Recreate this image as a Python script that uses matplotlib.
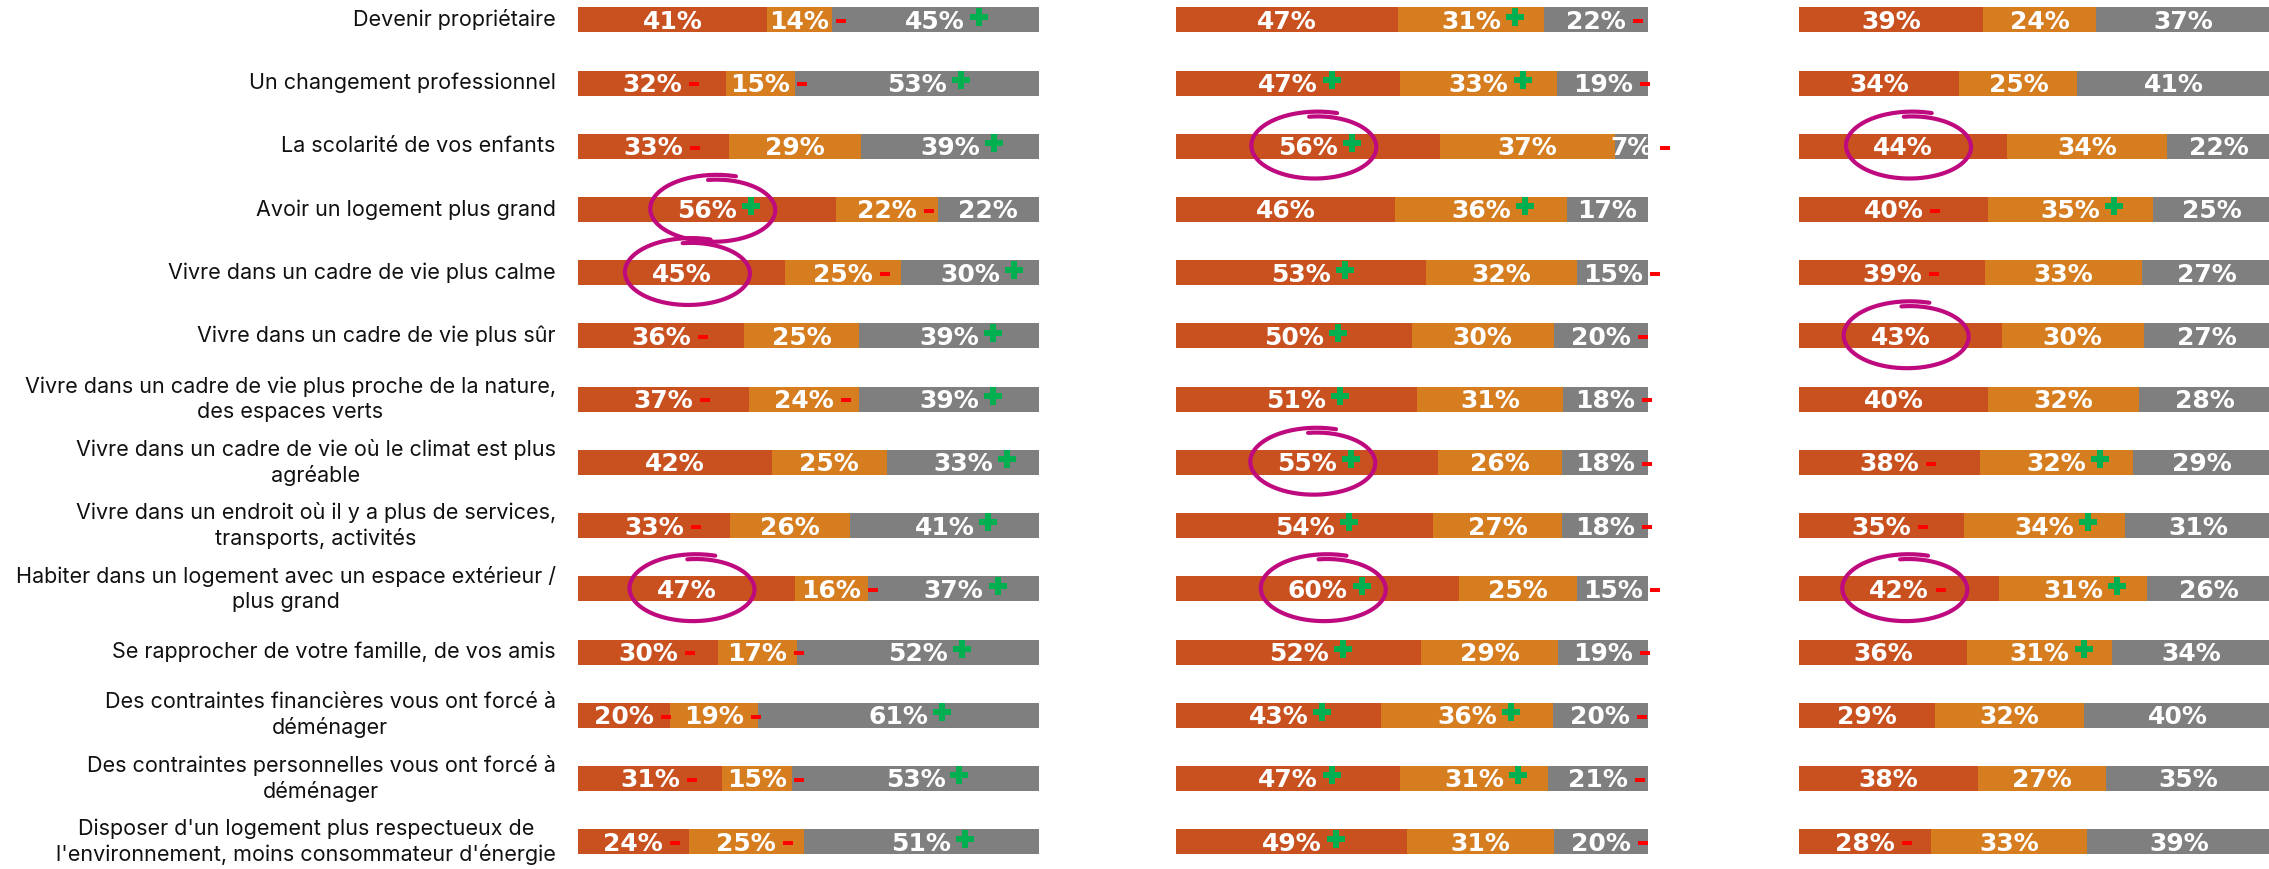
import numpy as np
import matplotlib.pyplot as plt
import matplotlib.transforms as mtransforms
from matplotlib.path import Path

# Motifs de déménagement
categories = [
    "Devenir propriétaire",
    "Un changement professionnel",
    "La scolarité de vos enfants",
    "Avoir un logement plus grand",
    "Vivre dans un cadre de vie plus calme",
    "Vivre dans un cadre de vie plus sûr",
    "Vivre dans un cadre de vie plus proche de la nature,\ndes espaces verts",
    "Vivre dans un cadre de vie où le climat est plus\nagréable",
    "Vivre dans un endroit où il y a plus de services,\ntransports, activités",
    "Habiter dans un logement avec un espace extérieur /\nplus grand",
    "Se rapprocher de votre famille, de vos amis",
    "Des contraintes financières vous ont forcé à\ndéménager",
    "Des contraintes personnelles vous ont forcé à\ndéménager",
    "Disposer d'un logement plus respectueux de\nl'environnement, moins consommateur d'énergie",
]

# bloc 1
p1_a = [41, 32, 33, 56, 45, 36, 37, 42, 33, 47, 30, 20, 31, 24]
p1_b = [14, 15, 29, 22, 25, 25, 24, 25, 26, 16, 17, 19, 15, 25]
p1_c = [45, 53, 39, 22, 30, 39, 39, 33, 41, 37, 52, 61, 53, 51]
p1_signs = [" -+", "--+", "- +", "+- ", " -+", "- +", "--+",
            "  +", "- +", " -+", "--+", "--+", "--+", "--+"]
p1_circled = [3, 4, 9]

# bloc 2
p2_a = [47, 47, 56, 46, 53, 50, 51, 55, 54, 60, 52, 43, 47, 49]
p2_b = [31, 33, 37, 36, 32, 30, 31, 26, 27, 25, 29, 36, 31, 31]
p2_c = [22, 19, 7, 17, 15, 20, 18, 18, 18, 15, 19, 20, 21, 20]
p2_signs = [" +-", "++-", "+ -", " + ", "+ -", "+ -", "+ -",
            "+ -", "+ -", "+ -", "+ -", "++-", "++-", "+ -"]
p2_circled = [2, 7, 9]

# bloc 3
p3_a = [39, 34, 44, 40, 39, 43, 40, 38, 35, 42, 36, 29, 38, 28]
p3_b = [24, 25, 34, 35, 33, 30, 32, 32, 34, 31, 31, 32, 27, 33]
p3_c = [37, 41, 22, 25, 27, 27, 28, 29, 31, 26, 34, 40, 35, 39]
p3_signs = ["   ", "   ", "   ", "-+ ", "-  ", "   ", "   ",
            "-+ ", "-+ ", "-+ ", " + ", "   ", "   ", "-  "]
p3_circled = [2, 5, 9]

colors = ["#C9511F", "#D67D20", "#7F7F7F"]
plus_color = "#00B050"
minus_color = "#FF0000"
circle_color = "#BE0A7E"

W, H = 2269, 869
fig = plt.figure(figsize=(W / 100, H / 100), dpi=100)

rows = np.arange(len(categories))
row0, step = 19.8, 63.23  # centre de la 1re ligne et pas, en pixels
ylim = ((H - row0) / step, -row0 / step)

panels = [
    (578, 461, [p1_a, p1_b, p1_c], p1_signs, p1_circled),
    (1176, 472, [p2_a, p2_b, p2_c], p2_signs, p2_circled),
    (1799, 472, [p3_a, p3_b, p3_c], p3_signs, p3_circled),
]

axes = []
pending = []  # (ax, text, sign, row)
for x0, w, series, signs, circled in panels:
    ax = fig.add_axes([x0 / W, 0, w / W, 1])
    ax.set_xlim(0, 100)
    ax.set_ylim(*ylim)
    ax.axis("off")
    axes.append(ax)

    # barres empilées à 100 %
    raw = np.array(series, dtype=float)
    share = raw / raw.sum(axis=0) * 100
    left = np.zeros(len(rows))
    for k in range(3):
        ax.barh(rows, share[k], left=left, height=0.395, color=colors[k],
                edgecolor="none", zorder=1)
        for i in rows:
            t = ax.text(left[i] + share[k, i] / 2, i + 0.03, f"{int(raw[k, i])}%",
                        ha="center", va="center", color="white", fontsize=18,
                        fontweight="bold", family="DejaVu Sans", zorder=3)
            if signs[i][k] != " ":
                pending.append((ax, t, signs[i][k], i))
        left = left + share[k]

    # cercles tracés à main levée autour des valeurs clés
    for i in circled:
        cx = share[0, i] / 2
        tr = fig.dpi_scale_trans + mtransforms.ScaledTranslation(cx, i, ax.transData)
        th = np.deg2rad(np.linspace(97, 97 - 385, 300))
        s = np.linspace(0.93, 1.09, 300)
        xs = 0.62 * s * np.cos(th) + 0.08
        ys = 0.32 * s * np.sin(th)
        ax.plot(xs, ys, color=circle_color, lw=3, transform=tr,
                clip_on=False, zorder=5, solid_capstyle="round")

# libellés des catégories
for i, cat in enumerate(categories):
    axes[0].text(-4.8, i, cat, ha="right", va="center", multialignment="center",
                 fontsize=15.5, family="Inter", color="#111111", linespacing=1.3)

# signes + / - placés juste après chaque pourcentage
fig.canvas.draw()
renderer = fig.canvas.get_renderer()
minus_path = Path([(-1, -0.45), (1, -0.45), (1, 0.45), (-1, 0.45), (-1, -0.45)],
                  closed=True)
for ax, t, sign, i in pending:
    bb = t.get_window_extent(renderer)
    gap = 14 if sign == "+" else 12
    xd = ax.transData.inverted().transform((bb.x1 + gap, 0))[0]
    if sign == "+":
        ax.plot(xd, i - 0.05, marker="P", markersize=12.5, color=plus_color,
                markeredgewidth=0, clip_on=False, zorder=4)
    else:
        ax.plot(xd, i + 0.02, marker=minus_path, markersize=7.2, color=minus_color,
                markeredgewidth=0, clip_on=False, zorder=4)

fig.savefig("out.png", dpi=100)
